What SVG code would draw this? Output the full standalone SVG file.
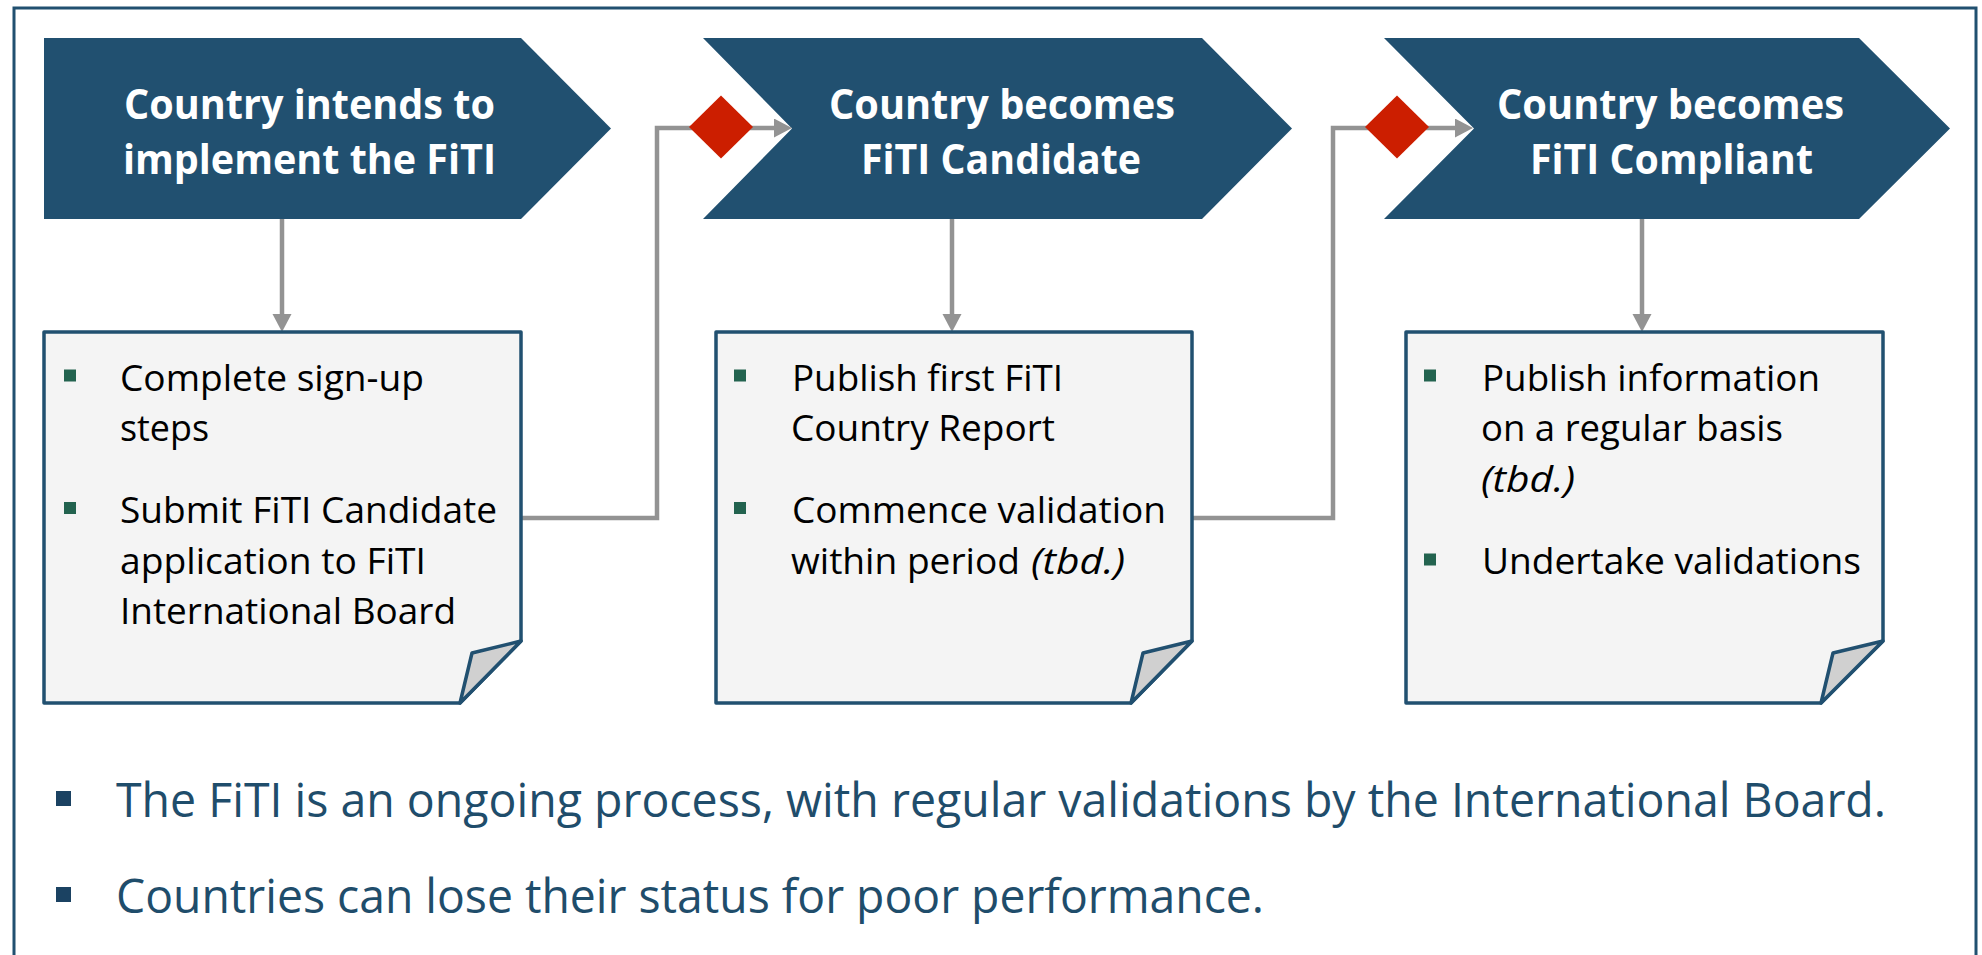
<svg xmlns="http://www.w3.org/2000/svg" width="1982" height="955" viewBox="0 0 1982 955">
<defs>
<style>
.chev{fill:#215070;}
.ttl{font-family:"Open Sans","Noto Sans",sans-serif;font-weight:bold;font-size:42px;fill:#ffffff;}
.note{fill:#f4f4f4;stroke:#215070;stroke-width:3.5;stroke-linejoin:round;}
.fold{fill:#d0d0d0;stroke:#215070;stroke-width:3.5;stroke-linejoin:round;}
.bt{font-family:"Open Sans","Noto Sans",sans-serif;font-size:36px;fill:#000000;}
.it{font-style:italic;}
.bul{fill:#23634f;}
.conn{fill:none;stroke:#939393;stroke-width:4.5;}
.dia{fill:#cc1e00;}
.foot{font-family:"Open Sans","Noto Sans",sans-serif;font-size:48px;fill:#1f4d6b;}
.fbul{fill:#1b4262;}
</style>
<marker id="ah" markerUnits="userSpaceOnUse" markerWidth="20" markerHeight="20" refX="8" refY="9.5" orient="auto">
<path d="M0,0 L18,9.5 L0,19 z" fill="#939393"/>
</marker>
</defs>
<rect x="0" y="0" width="1982" height="955" fill="#ffffff"/>
<rect id="frame" x="14" y="8" width="1962" height="970" fill="none" stroke="#215070" stroke-width="3"/>

<g id="stage1">
<polygon class="chev" points="44,38 521,38 611,128.5 521,219 44,219"/>
<text class="ttl" x="124" y="119" textLength="371" lengthAdjust="spacingAndGlyphs">Country intends to</text>
<text class="ttl" x="123" y="174" textLength="373" lengthAdjust="spacingAndGlyphs">implement the FiTI</text>
</g>
<g id="stage2">
<polygon class="chev" points="703,38 1202,38 1292,128.5 1202,219 703,219 792,128.5"/>
<text class="ttl" x="829" y="119" textLength="346" lengthAdjust="spacingAndGlyphs">Country becomes</text>
<text class="ttl" x="861" y="174" textLength="280" lengthAdjust="spacingAndGlyphs">FiTI Candidate</text>
</g>
<g id="stage3">
<polygon class="chev" points="1384,38 1859,38 1950,128.5 1859,219 1384,219 1474,128.5"/>
<text class="ttl" x="1497" y="119" textLength="347" lengthAdjust="spacingAndGlyphs">Country becomes</text>
<text class="ttl" x="1530" y="174" textLength="283" lengthAdjust="spacingAndGlyphs">FiTI Compliant</text>
</g>

<g id="connectors">
<path class="conn" d="M282,219 V322" marker-end="url(#ah)"/>
<path class="conn" d="M952,219 V322" marker-end="url(#ah)"/>
<path class="conn" d="M1642,219 V322" marker-end="url(#ah)"/>
<path class="conn" d="M521,518 H657 V128 H782" marker-end="url(#ah)"/>
<path class="conn" d="M1192,518 H1333 V128 H1463" marker-end="url(#ah)"/>
<polygon class="dia" points="721,95.5 753,127 721,158.5 689,127"/>
<polygon class="dia" points="1397,95.5 1429,127 1397,158.5 1365,127"/>
</g>

<g id="note1">
<path class="note" d="M44,332 H521 V641 L460,703 H44 Z"/>
<polygon class="fold" points="521,641 472,653 460,703"/>
<rect class="bul" x="64" y="369.5" width="12" height="12"/>
<text class="bt" x="120" y="391" textLength="304" lengthAdjust="spacingAndGlyphs">Complete sign-up</text>
<text class="bt" x="120" y="441" textLength="89" lengthAdjust="spacingAndGlyphs">steps</text>
<rect class="bul" x="64" y="502" width="12" height="12"/>
<text class="bt" x="120" y="523" textLength="377" lengthAdjust="spacingAndGlyphs">Submit FiTI Candidate</text>
<text class="bt" x="120" y="574" textLength="306" lengthAdjust="spacingAndGlyphs">application to FiTI</text>
<text class="bt" x="120" y="624" textLength="336" lengthAdjust="spacingAndGlyphs">International Board</text>
</g>

<g id="note2">
<path class="note" d="M716,332 H1192 V641 L1131,703 H716 Z"/>
<polygon class="fold" points="1192,641 1143,653 1131,703"/>
<rect class="bul" x="734" y="369.5" width="12" height="12"/>
<text class="bt" x="792" y="391" textLength="271" lengthAdjust="spacingAndGlyphs">Publish first FiTI</text>
<text class="bt" x="791" y="441" textLength="264" lengthAdjust="spacingAndGlyphs">Country Report</text>
<rect class="bul" x="734" y="502" width="12" height="12"/>
<text class="bt" x="792" y="523" textLength="374" lengthAdjust="spacingAndGlyphs">Commence validation</text>
<text class="bt" x="791" y="574" textLength="229" lengthAdjust="spacingAndGlyphs">within period</text>
<text class="bt it" x="1031" y="574" textLength="94" lengthAdjust="spacingAndGlyphs">(tbd.)</text>
</g>

<g id="note3">
<path class="note" d="M1406,332 H1883 V641 L1821,703 H1406 Z"/>
<polygon class="fold" points="1883,641 1833,653 1821,703"/>
<rect class="bul" x="1424" y="369.5" width="12" height="12"/>
<text class="bt" x="1482" y="391" textLength="338" lengthAdjust="spacingAndGlyphs">Publish information</text>
<text class="bt" x="1481" y="441" textLength="302" lengthAdjust="spacingAndGlyphs">on a regular basis</text>
<text class="bt it" x="1481" y="492" textLength="94" lengthAdjust="spacingAndGlyphs">(tbd.)</text>
<rect class="bul" x="1424" y="553.5" width="12" height="12"/>
<text class="bt" x="1482" y="574" textLength="379" lengthAdjust="spacingAndGlyphs">Undertake validations</text>
</g>

<g id="footer">
<rect class="fbul" x="56" y="791" width="15" height="15"/>
<text class="foot" x="116" y="817" textLength="1770" lengthAdjust="spacingAndGlyphs">The FiTI is an ongoing process, with regular validations by the International Board.</text>
<rect class="fbul" x="56" y="887" width="15" height="15"/>
<text class="foot" x="116" y="913" textLength="1148" lengthAdjust="spacingAndGlyphs">Countries can lose their status for poor performance.</text>
</g>
</svg>
